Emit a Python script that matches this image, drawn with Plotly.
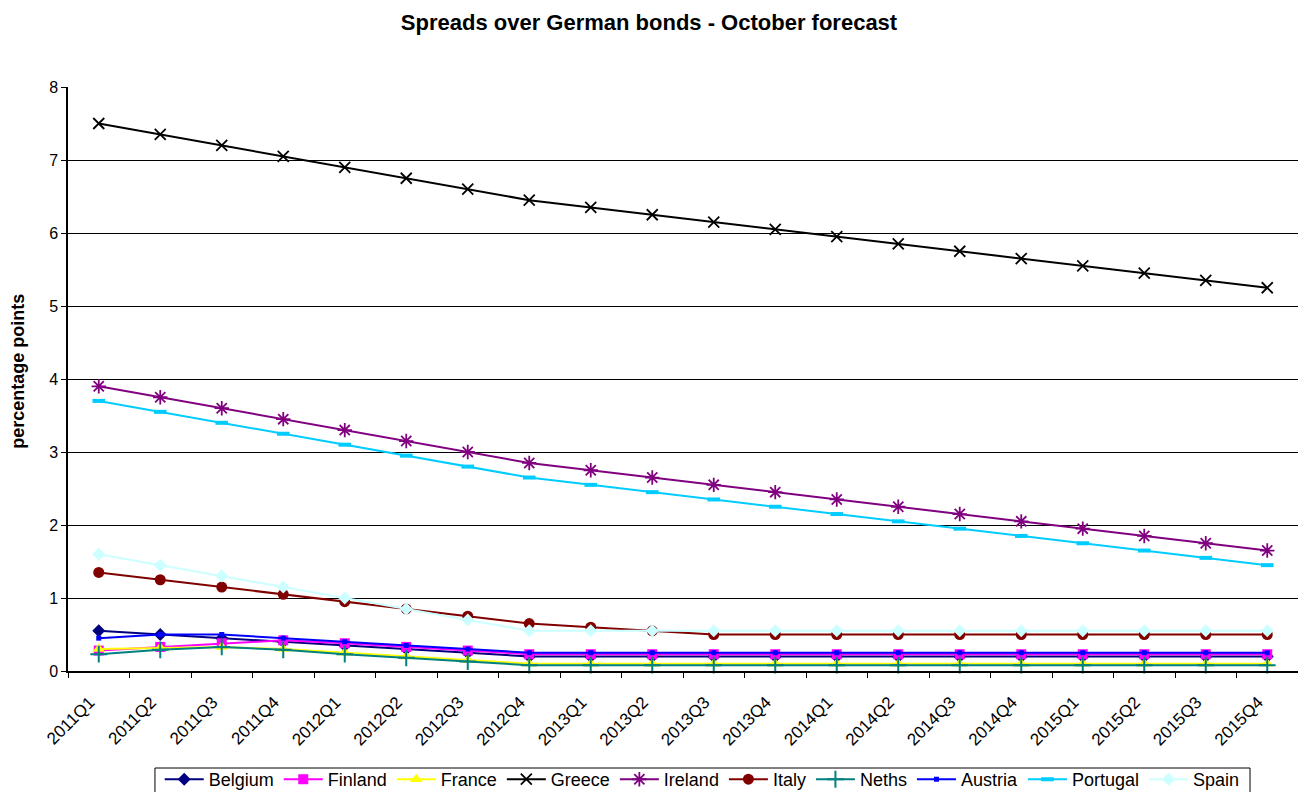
import plotly.graph_objects as go

quarters = ["2011Q1","2011Q2","2011Q3","2011Q4","2012Q1","2012Q2","2012Q3","2012Q4",
            "2013Q1","2013Q2","2013Q3","2013Q4","2014Q1","2014Q2","2014Q3","2014Q4",
            "2015Q1","2015Q2","2015Q3","2015Q4"]

belgium = [0.55,0.50,0.45,0.40,0.35,0.30,0.25,0.20,0.20,0.20,0.20,0.20,0.20,0.20,0.20,0.20,0.20,0.20,0.20,0.20]
finland = [0.28,0.33,0.38,0.42,0.38,0.33,0.28,0.23,0.23,0.23,0.23,0.23,0.23,0.23,0.23,0.23,0.23,0.23,0.23,0.23]
france = [0.30,0.32,0.33,0.30,0.25,0.20,0.15,0.10,0.10,0.10,0.10,0.10,0.10,0.10,0.10,0.10,0.10,0.10,0.10,0.10]
greece = [7.50,7.35,7.20,7.05,6.90,6.75,6.60,6.45,6.35,6.25,6.15,6.05,5.95,5.85,5.75,5.65,5.55,5.45,5.35,5.25]
ireland = [3.90,3.75,3.60,3.45,3.30,3.15,3.00,2.85,2.75,2.65,2.55,2.45,2.35,2.25,2.15,2.05,1.95,1.85,1.75,1.65]
italy = [1.35,1.25,1.15,1.05,0.95,0.85,0.75,0.65,0.60,0.55,0.50,0.50,0.50,0.50,0.50,0.50,0.50,0.50,0.50,0.50]
neths = [0.23,0.29,0.33,0.29,0.23,0.18,0.13,0.08,0.08,0.08,0.08,0.08,0.08,0.08,0.08,0.08,0.08,0.08,0.08,0.08]
austria = [0.45,0.50,0.50,0.45,0.40,0.35,0.30,0.25,0.25,0.25,0.25,0.25,0.25,0.25,0.25,0.25,0.25,0.25,0.25,0.25]
portugal = [3.70,3.55,3.40,3.25,3.10,2.95,2.80,2.65,2.55,2.45,2.35,2.25,2.15,2.05,1.95,1.85,1.75,1.65,1.55,1.45]
spain = [1.60,1.45,1.30,1.15,1.00,0.85,0.70,0.55,0.55,0.55,0.55,0.55,0.55,0.55,0.55,0.55,0.55,0.55,0.55,0.55]

series = [
    ("Belgium", belgium, "#000080", dict(symbol="diamond", size=10)),
    ("Finland", finland, "#FF00FF", dict(symbol="square", size=10)),
    ("France", france, "#FFFF00", dict(symbol="triangle-up", size=11)),
    ("Greece", greece, "#000000", dict(symbol="x-thin-open", size=11, line=dict(width=1.8, color="#000000"))),
    ("Ireland", ireland, "#800080", dict(symbol="asterisk-open", size=12, line=dict(width=1.8, color="#800080"))),
    ("Italy", italy, "#800000", dict(symbol="circle", size=11)),
    ("Neths", neths, "#008080", dict(symbol="cross-thin-open", size=12, line=dict(width=2, color="#008080"))),
    ("Austria", austria, "#0000FF", dict(symbol="square", size=5)),
    ("Portugal", portugal, "#00CCFF", dict(symbol="line-ew-open", size=9, line=dict(width=4, color="#00CCFF"))),
    ("Spain", spain, "#CCFFFF", dict(symbol="diamond", size=10)),
]

fig = go.Figure()
for name, vals, color, mk in series:
    m = dict(color=color)
    m.update(mk)
    fig.add_trace(go.Scatter(x=quarters, y=vals, name=name, mode="lines+markers",
                             line=dict(color=color, width=2), marker=m, cliponaxis=False))

fig.update_layout(
    width=1298, height=792,
    margin=dict(l=68, r=0, t=87, b=121, autoexpand=False),
    paper_bgcolor="white", plot_bgcolor="white",
    font=dict(family="Liberation Sans, Arial", size=16, color="black"),
    title=dict(text="<b>Spreads over German bonds - October forecast</b>",
               x=0.5, xanchor="center", y=0.972, yanchor="middle",
               font=dict(size=22, color="black")),
    legend=dict(orientation="h", xref="container", yref="container",
                x=0.541, xanchor="center", y=0.0391, yanchor="top",
                borderwidth=0, bgcolor="rgba(0,0,0,0)", font=dict(size=18),
                itemwidth=39, tracegroupgap=0),
    showlegend=True,
    shapes=[dict(type="rect", xref="paper", yref="paper",
                 x0=0.0707, x1=0.961, y0=-0.1661, y1=-0.23,
                 line=dict(color="black", width=1), fillcolor="rgba(0,0,0,0)", layer="above")],
    annotations=[dict(text="<b>percentage points</b>", textangle=-90, xref="paper", yref="paper",
                      x=-0.0407, y=0.514, xanchor="center", yanchor="middle", showarrow=False,
                      font=dict(size=18, color="black"))],
)
fig.update_xaxes(type="category", range=[-0.5, 19.5], tickangle=-45, tickson="boundaries",
                 ticks="outside", ticklen=5, tickcolor="black",
                 showline=True, linecolor="black", linewidth=1.5,
                 showgrid=False, tickfont=dict(size=17), automargin=False,
                 ticklabelshift=-9, ticklabelstandoff=13)
fig.update_yaxes(range=[0, 8], dtick=1, ticks="outside", ticklen=5, tickcolor="black",
                 showline=True, linecolor="black", linewidth=1.5,
                 showgrid=True, gridcolor="black", gridwidth=1,
                 zeroline=False, tickfont=dict(size=16), automargin=False)

fig.write_html("out.html")
